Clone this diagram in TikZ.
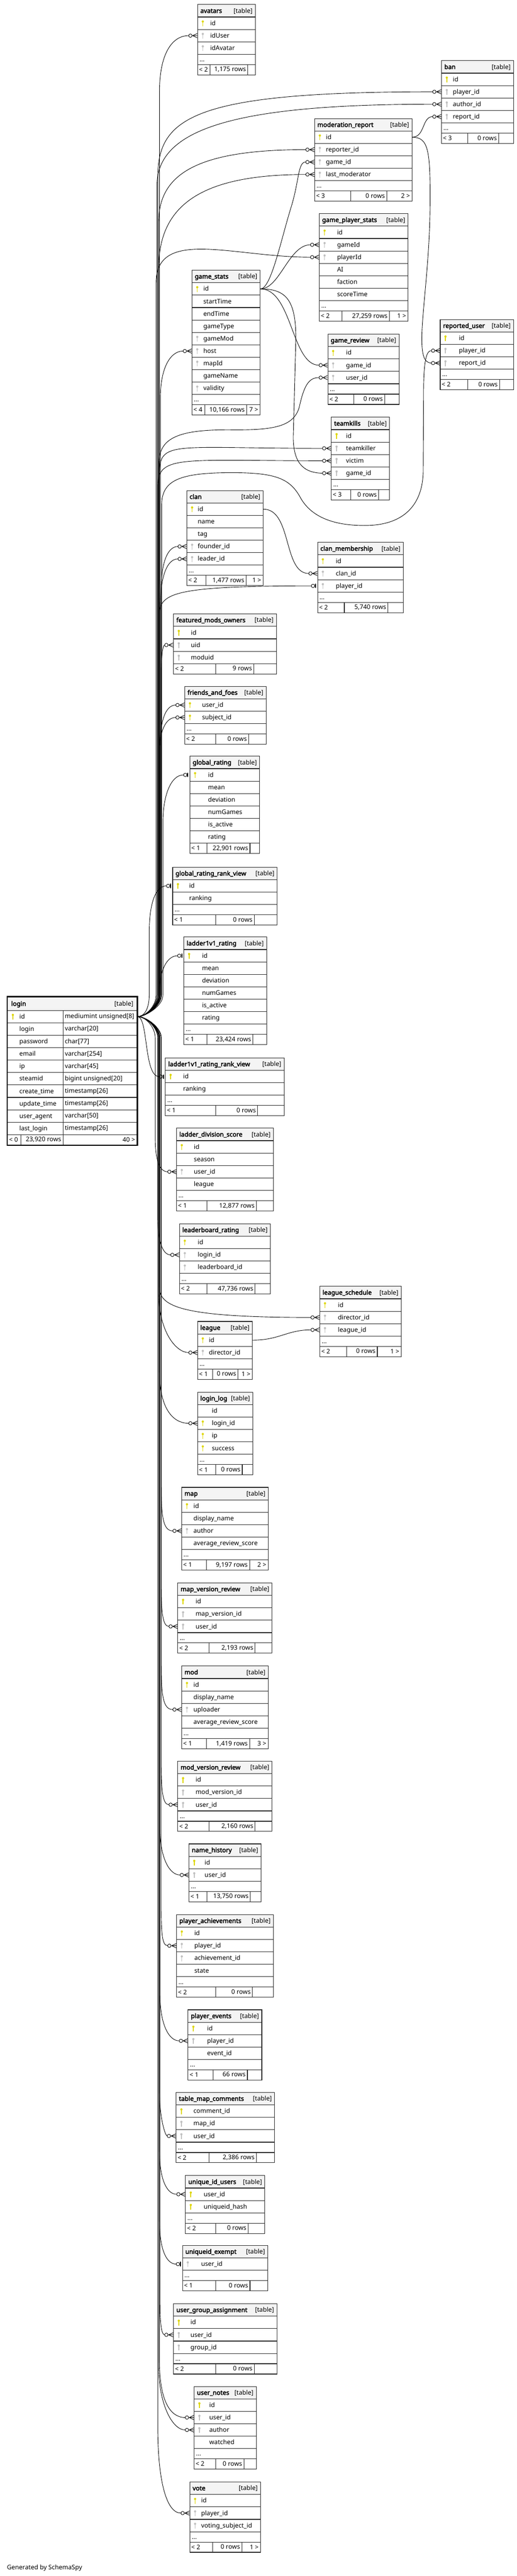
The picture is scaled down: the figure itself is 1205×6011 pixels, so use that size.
\documentclass[tikz,border=0pt]{standalone}
\usepackage{fontspec}
\setmainfont{Noto Sans}
\newfontfamily\titlefont[FakeBold=3]{Noto Sans}
\usetikzlibrary{calc}
\definecolor{pkyellow}{RGB}{222,214,0}
\definecolor{fkgray}{RGB}{192,192,192}
\definecolor{headgray}{RGB}{244,244,244}
\newcommand\px{0.75pt}
\newcommand\cellfont{\fontsize{11}{13}\selectfont}
\def\offmany{20}
\def\offone{14}

% key icon in front of a column name
\newcommand\keyicon[2]{%
  \fill[#1] ($(#2)+(13,-4)$) circle (2.6);
  \draw[#1, line width=1.4pt] ($(#2)+(13,-3)$) -- ($(#2)+(13,7)$);
}

% table: name, left, top, width, text indent, rows, "..." row
\newcommand\dbtable[7]{%
  \xdef\tbx{#2}\xdef\tbw{#4}%
  \node[headcell, minimum width=#4*\px] (#1) at (#2,#3) {};
  \node[titletext] at ($(#1.west)+(7,5)$) {\detokenize{#1}};
  \node[tagtext] at ($(#1.east)+(-7,5)$) {[table]};
  \foreach \ky/\fn [count=\rowno] in {#6} {
    \node[fieldcell, minimum width=#4*\px] (#1-\fn) at (#2,{#3+29*\rowno}) {};
    \node[fieldtext] at ($(#1-\fn.west)+(#5,5)$) {\expandafter\detokenize\expandafter{\fn}};
    \if\ky P\keyicon{pkyellow}{#1-\fn.west}\fi
    \if\ky F\keyicon{fkgray}{#1-\fn.west}\fi
    \xdef\nrows{\rowno}
  }
  \pgfmathsetmacro\ybot{#3+29+29*\nrows}
  \ifnum#7=1
    \node[fieldcell, minimum width=#4*\px, minimum height=24*\px] (#1-more) at (#2,\ybot) {};
    \node[fieldtext] at ($(#1-more.west)+(5,5)$) {...};
    \pgfmathsetmacro\ybot{\ybot+24}
  \fi
}

% footer: name, split 1, split 2, left, middle, right
\newcommand\dbfoot[6]{%
  \node[fieldcell, minimum width=\tbw*\px, minimum height=24*\px] (#1-foot) at (\tbx,\ybot) {};
  \draw[cellline] (#2,\ybot) -- ++(0,24) (#3,\ybot) -- ++(0,24);
  \node[fieldtext] at ($(#1-foot.west)+(4,5)$) {#4};
  \node[fieldtext, anchor=base east] at ($(#3,\ybot)+(-4,17)$) {#5};
  \node[fieldtext, anchor=base east] at ($(#1-foot.east)+(-5,5)$) {#6};
}

% crow's foot markers at the west side of a row
\newcommand\zmany[1]{%
  \draw[relmark] ($(#1.west)+(-11,0)$) -- ($(#1.west)+(0,-5)$)
    ($(#1.west)+(-11,0)$) -- (#1.west)
    ($(#1.west)+(-11,0)$) -- ($(#1.west)+(0,5)$);
  \draw[relmark, fill=white] ($(#1.west)+(-16,0)$) circle (4);
}
\newcommand\zone[1]{%
  \draw[relmark, line width=1.6pt] ($(#1.west)+(-4,-5)$) -- ($(#1.west)+(-4,5)$);
  \draw[relmark, fill=white] ($(#1.west)+(-10,0)$) circle (4);
}

% edge from login.id: marker, target row, bundle x, dir (+1 down/-1 up), h, h1, dx
\newcommand\loginfk[7]{%
  \edef\eo{\csname off#1\endcsname}%
  \coordinate (bx) at (#3,0);
  \draw[rel] (login-id.east) .. controls ($(login-id.east)+(20,0)$) and ($(bx |- login-id.east)+(0,{25*(#4)})$) .. ($(bx |- login-id.east)+(0,{50*(#4)})$)
    -- ($(bx |- #2.west)+(0,{0-(#4)*(#5)})$)
    .. controls ($(bx |- #2.west)+(0,{0-(#4)*(#6)})$) and ($(#2.west)+({0-\eo-(#7)},0)$) .. ($(#2.west)+({0-\eo},0)$);
  \csname z#1\endcsname{#2}%
}

\begin{document}
\begin{tikzpicture}[x=0.75pt, y=-0.75pt,
    headcell/.style={draw=black!85, line width=1pt, fill=headgray, anchor=north west, inner sep=0pt, minimum height=29*\px},
    fieldcell/.style={draw=black!85, line width=1pt, fill=white, anchor=north west, inner sep=0pt, minimum height=29*\px},
    cellline/.style={draw=black!85, line width=1pt},
    fieldtext/.style={font=\cellfont, anchor=base west, inner sep=0pt},
    titletext/.style={font=\titlefont\cellfont, anchor=base west, inner sep=0pt},
    tagtext/.style={font=\cellfont, anchor=base east, inner sep=0pt},
    rel/.style={draw=black, line width=0.8pt},
    relmark/.style={draw=black, line width=0.8pt}
]
\useasboundingbox (0,0) rectangle (1205,6011);

% tables
\dbtable{avatars}{460}{10}{135}{30}{P/id,F/idUser,F/idAvatar}{1}
\dbfoot{avatars}{490}{578}{< 2}{1,175 rows}{}
\dbtable{ban}{1029}{141}{168}{27}{P/id,F/player_id,F/author_id,F/report_id}{1}
\dbfoot{ban}{1091}{1163}{< 3}{0 rows}{}
\dbtable{moderation_report}{733}{276}{227}{27}{P/id,F/reporter_id,F/game_id,F/last_moderator}{1}
\dbfoot{moderation_report}{818}{902}{< 3}{0 rows}{2 >}
\dbtable{game_player_stats}{744}{498}{207}{42}{P/id,F/gameId,F/playerId,N/AI,N/faction,N/scoreTime}{1}
\dbfoot{game_player_stats}{798}{908}{< 2}{27,259 rows}{1 >}
\dbtable{game_stats}{447}{630}{159}{27}{P/id,N/startTime,N/endTime,N/gameType,F/gameMod,F/host,F/mapId,N/gameName,F/validity}{1}
\dbfoot{game_stats}{478}{575}{< 4}{10,166 rows}{7 >}
\dbtable{game_review}{764}{779}{166}{43}{P/id,F/game_id,F/user_id}{1}
\dbfoot{game_review}{825}{897}{< 2}{0 rows}{}
\dbtable{reported_user}{1026}{745}{171}{44}{P/id,F/player_id,F/report_id}{1}
\dbfoot{reported_user}{1091}{1165}{< 2}{0 rows}{}
\dbtable{teamkills}{772}{973}{136}{35}{P/id,F/teamkiller,F/victim,F/game_id}{1}
\dbfoot{teamkills}{818}{883}{< 3}{0 rows}{}
\dbtable{clan}{435}{1144}{178}{26}{P/id,N/name,N/tag,F/founder_id,F/leader_id}{1}
\dbfoot{clan}{480}{574}{< 2}{1,477 rows}{1 >}
\dbtable{clan_membership}{740}{1265}{200}{43}{P/id,F/clan_id,F/player_id}{1}
\dbfoot{clan_membership}{803}{905}{< 2}{5,740 rows}{}
\dbtable{featured_mods_owners}{404}{1432}{240}{41}{P/id,F/uid,F/moduid}{0}
\dbfoot{featured_mods_owners}{503}{592}{< 2}{9 rows}{}
\dbtable{friends_and_foes}{430}{1601}{190}{41}{P/user_id,P/subject_id}{1}
\dbfoot{friends_and_foes}{503}{580}{< 2}{0 rows}{}
\dbtable{global_rating}{442}{1764}{163}{43}{P/id,N/mean,N/deviation,N/numGames,N/is_active,N/rating}{0}
\dbfoot{global_rating}{483}{583}{< 1}{22,901 rows}{}
\dbtable{global_rating_rank_view}{402}{2023}{244}{39}{P/id,N/ranking}{1}
\dbfoot{global_rating_rank_view}{503}{593}{< 1}{0 rows}{}
\dbtable{ladder1v1_rating}{428}{2186}{193}{43}{P/id,N/mean,N/deviation,N/numGames,N/is_active,N/rating}{1}
\dbfoot{ladder1v1_rating}{483}{590}{< 1}{23,424 rows}{}
\dbtable{ladder1v1_rating_rank_view}{385}{2468}{277}{42}{P/id,N/ranking}{1}
\dbfoot{ladder1v1_rating_rank_view}{503}{601}{< 1}{0 rows}{}
\dbtable{ladder_division_score}{411}{2632}{226}{41}{P/id,N/season,F/user_id,N/league}{1}
\dbfoot{ladder_division_score}{483}{598}{< 1}{12,877 rows}{}
\dbtable{leaderboard_rating}{418}{2855}{212}{43}{P/id,F/login_id,F/leaderboard_id}{1}
\dbfoot{leaderboard_rating}{483}{595}{< 2}{47,736 rows}{}
\dbtable{league_schedule}{745}{3001}{190}{43}{P/id,F/director_id,F/league_id}{1}
\dbfoot{league_schedule}{808}{880}{< 2}{0 rows}{1 >}
\dbtable{league}{460}{3083}{128}{27}{P/id,F/director_id}{1}
\dbfoot{league}{496}{555}{< 1}{0 rows}{1 >}
\dbtable{login_log}{460}{3248}{129}{34}{N/id,P/login_id,P/ip,P/success}{1}
\dbfoot{login_log}{503}{565}{< 1}{0 rows}{}
\dbtable{map}{423}{3470}{202}{28}{P/id,N/display_name,F/author,N/average_review_score}{1}
\dbfoot{map}{481}{582}{< 1}{9,197 rows}{2 >}
\dbtable{map_version_review}{414}{3693}{220}{42}{P/id,F/map_version_id,F/user_id}{1}
\dbfoot{map_version_review}{487}{595}{< 2}{2,193 rows}{}
\dbtable{mod}{423}{3887}{202}{28}{P/id,N/display_name,F/uploader,N/average_review_score}{1}
\dbfoot{mod}{481}{582}{< 1}{1,419 rows}{3 >}
\dbtable{mod_version_review}{414}{4109}{220}{42}{P/id,F/mod_version_id,F/user_id}{1}
\dbfoot{mod_version_review}{487}{595}{< 2}{2,160 rows}{}
\dbtable{name_history}{440}{4302}{168}{37}{P/id,F/user_id}{1}
\dbfoot{name_history}{483}{584}{< 1}{13,750 rows}{}
\dbtable{player_achievements}{411}{4467}{226}{42}{P/id,F/player_id,F/achievement_id,N/state}{1}
\dbfoot{player_achievements}{503}{589}{< 2}{0 rows}{}
\dbtable{player_events}{438}{4689}{172}{45}{P/id,F/player_id,N/event_id}{1}
\dbfoot{player_events}{497}{577}{< 1}{66 rows}{}
\dbtable{table_map_comments}{410}{4882}{230}{41}{P/comment_id,F/map_id,F/user_id}{1}
\dbfoot{table_map_comments}{488}{598}{< 2}{2,386 rows}{}
\dbtable{unique_id_users}{432}{5076}{185}{43}{P/user_id,P/uniqueid_hash}{1}
\dbfoot{unique_id_users}{503}{579}{< 2}{0 rows}{}
\dbtable{uniqueid_exempt}{425}{5239}{199}{44}{F/user_id}{1}
\dbfoot{uniqueid_exempt}{503}{583}{< 1}{0 rows}{}
\dbtable{user_group_assignment}{404}{5375}{241}{40}{P/id,F/user_id,F/group_id}{1}
\dbfoot{user_group_assignment}{503}{593}{< 2}{0 rows}{}
\dbtable{user_notes}{452}{5568}{145}{36}{P/id,F/user_id,F/author,N/watched}{1}
\dbfoot{user_notes}{503}{569}{< 2}{0 rows}{}
\dbtable{vote}{442}{5791}{165}{27}{P/id,F/player_id,F/voting_subject_id}{1}
\dbfoot{vote}{496}{564}{< 2}{0 rows}{1 >}

% login, with types
\node[headcell, minimum width=302*\px, minimum height=31*\px] (login) at (17,2326) {};
\node[titletext] at ($(login.west)+(9,5)$) {login};
\node[tagtext] at ($(login.east)+(-9,5)$) {[table]};
\foreach \ky/\fn/\tp [count=\rowno] in {P/id/mediumint unsigned[8], N/login/varchar[20], N/password/char[77], N/email/varchar[254], N/ip/varchar[45], N/steamid/bigint unsigned[20], N/create_time/timestamp[26], N/update_time/timestamp[26], N/user_agent/varchar[50], N/last_login/timestamp[26]} {
  \node[fieldcell, minimum width=302*\px] (login-\fn) at (17,{2357+29*(\rowno-1)}) {};
  \draw[cellline] (147,{2357+29*(\rowno-1)}) -- ++(0,29);
  \node[fieldtext] at ($(login-\fn.west)+(28,5)$) {\expandafter\detokenize\expandafter{\fn}};
  \node[fieldtext] at (151,{2357+29*(\rowno-1)+19.5}) {\tp};
  \if\ky P\keyicon{pkyellow}{login-\fn.west}\fi
}
\xdef\tbx{17}\xdef\tbw{302}\def\ybot{2647}
\dbfoot{login}{49}{147}{< 0}{23,920 rows}{40 >}
\draw[line width=2.4pt] (login.north west) rectangle (login-foot.south east);

% relations to login.id, upwards
\loginfk{many}{avatars-idUser}{372}{-1}{130}{45}{40}
\loginfk{many}{ban-player_id}{368}{-1}{200}{60}{560}
\loginfk{many}{ban-author_id}{366}{-1}{190}{60}{470}
\loginfk{many}{moderation_report-reporter_id}{370}{-1}{170}{60}{260}
\loginfk{many}{moderation_report-last_moderator}{370}{-1}{220}{75}{250}
\loginfk{many}{game_player_stats-playerId}{364}{-1}{60}{-70}{180}
\loginfk{many}{game_stats-host}{374}{-1}{110}{40}{30}
\loginfk{many}{teamkills-teamkiller}{372}{-1}{60}{-20}{350}
\loginfk{many}{teamkills-victim}{368}{-1}{60}{-15}{330}
\loginfk{many}{clan-founder_id}{376}{-1}{100}{40}{25}
\loginfk{many}{clan-leader_id}{374}{-1}{110}{40}{25}
\loginfk{one}{clan_membership-player_id}{371}{-1}{80}{20}{350}
\loginfk{many}{featured_mods_owners-uid}{376}{-1}{70}{30}{5}
\loginfk{many}{friends_and_foes-user_id}{373}{-1}{100}{40}{25}
\loginfk{many}{friends_and_foes-subject_id}{371}{-1}{90}{35}{25}
\loginfk{one}{global_rating-id}{380}{-1}{110}{50}{30}
\loginfk{one}{global_rating_rank_view-id}{348}{-1}{110}{40}{25}
\loginfk{one}{ladder1v1_rating-id}{372}{-1}{85}{35}{25}
\draw[rel] (login-id.east) .. controls ($(login-id.east)+(20,0)$) and (371,2346) .. (371,2321) -- (371,1080)
  .. controls (371,1020) and (420,1002) .. (540,1003) .. controls (640,1004) and (685,995) .. (698,950)
  .. controls (708,905) and (718,880.5) .. ($(game_review-user_id.west)+(-20,0)$);
\zmany{game_review-user_id}
\draw[rel] (login-id.east) .. controls ($(login-id.east)+(20,0)$) and (377,2346) .. (377,2321) -- (377,1180)
  .. controls (377,1125) and (410,1104) .. (530,1103) .. controls (640,1102) and (675,1115) .. (700,1160)
  .. controls (728,1212) and (790,1228) .. (860,1226) .. controls (945,1223) and (986,1175) .. (987,1100)
  -- (988,900) .. controls (989,845) and (994,817.5) .. ($(reported_user-player_id.west)+(-20,0)$);
\zmany{reported_user-player_id}

% relations to login.id, downwards
\draw[rel] (login-id.east) .. controls ($(login-id.east)+(26,0)$) and (335,2511.5) .. ($(ladder1v1_rating_rank_view-id.west)+(-14,0)$);
\zone{ladder1v1_rating_rank_view-id}
\loginfk{many}{ladder_division_score-user_id}{362}{1}{80}{30}{20}
\loginfk{many}{leaderboard_rating-login_id}{368}{1}{90}{35}{20}
\loginfk{many}{league_schedule-director_id}{372}{1}{70}{25}{300}
\loginfk{many}{league-director_id}{370}{1}{140}{50}{30}
\loginfk{many}{login_log-login_id}{372}{1}{120}{40}{40}
\loginfk{many}{map-author}{376}{1}{120}{40}{25}
\loginfk{many}{map_version_review-user_id}{376}{1}{100}{35}{15}
\loginfk{many}{mod-uploader}{376}{1}{120}{40}{25}
\loginfk{many}{mod_version_review-user_id}{376}{1}{100}{35}{15}
\loginfk{many}{name_history-user_id}{373}{1}{110}{40}{25}
\loginfk{many}{player_achievements-player_id}{376}{1}{110}{40}{15}
\loginfk{many}{player_events-player_id}{373}{1}{110}{40}{25}
\loginfk{many}{table_map_comments-user_id}{372}{1}{100}{45}{5}
\loginfk{many}{unique_id_users-user_id}{372}{1}{100}{40}{25}
\loginfk{one}{uniqueid_exempt-user_id}{372}{1}{100}{40}{25}
\loginfk{many}{user_group_assignment-user_id}{373}{1}{80}{30}{8}
\loginfk{many}{user_notes-user_id}{372}{1}{130}{50}{40}
\loginfk{many}{user_notes-author}{370}{1}{150}{60}{30}
\loginfk{many}{vote-player_id}{368}{1}{200}{80}{35}

% other relations
\draw[rel] (moderation_report-id.east) .. controls ($(moderation_report-id.east)+(30,0)$) and ($(ban-report_id.west)+(-45,0)$) .. ($(ban-report_id.west)+(-20,0)$);
\zmany{ban-report_id}
\draw[rel] (moderation_report-id.east) .. controls ($(moderation_report-id.east)+(38,0)$) and (1004,350) .. (1003,480)
  .. controls (1002,620) and (982,740) .. (984,800) .. controls (985,835) and (992,846.5) .. ($(reported_user-report_id.west)+(-20,0)$);
\zmany{reported_user-report_id}
\draw[rel] (game_stats-id.east) .. controls ($(game_stats-id.east)+(25,0)$) and (655,560) .. (680,480)
  .. controls (698,420) and (695,377.5) .. ($(moderation_report-game_id.west)+(-20,0)$);
\zmany{moderation_report-game_id}
\draw[rel] (game_stats-id.east) .. controls ($(game_stats-id.east)+(45,0)$) and ($(game_player_stats-gameId.west)+(-70,0)$) .. ($(game_player_stats-gameId.west)+(-20,0)$);
\zmany{game_player_stats-gameId}
\draw[rel] (game_stats-id.east) .. controls ($(game_stats-id.east)+(74,0)$) and ($(game_review-game_id.west)+(-84,0)$) .. ($(game_review-game_id.west)+(-20,0)$);
\zmany{game_review-game_id}
\draw[rel] (game_stats-id.east) .. controls ($(game_stats-id.east)+(60,0)$) and (690,700) .. (690,790) -- (684,1020)
  .. controls (684,1085) and (712,1103.5) .. ($(teamkills-game_id.west)+(-20,0)$);
\zmany{teamkills-game_id}
\draw[rel] (clan-id.east) .. controls ($(clan-id.east)+(67,0)$) and ($(clan_membership-clan_id.west)+(-80,0)$) .. ($(clan_membership-clan_id.west)+(-20,0)$);
\zmany{clan_membership-clan_id}
\draw[rel] (league-id.east) .. controls ($(league-id.east)+(62,0)$) and ($(league_schedule-league_id.west)+(-75,0)$) .. ($(league_schedule-league_id.west)+(-20,0)$);
\zmany{league_schedule-league_id}

\node[fieldtext] (credit) at (16,5996) {Generated by SchemaSpy};
\end{tikzpicture}
\end{document}
